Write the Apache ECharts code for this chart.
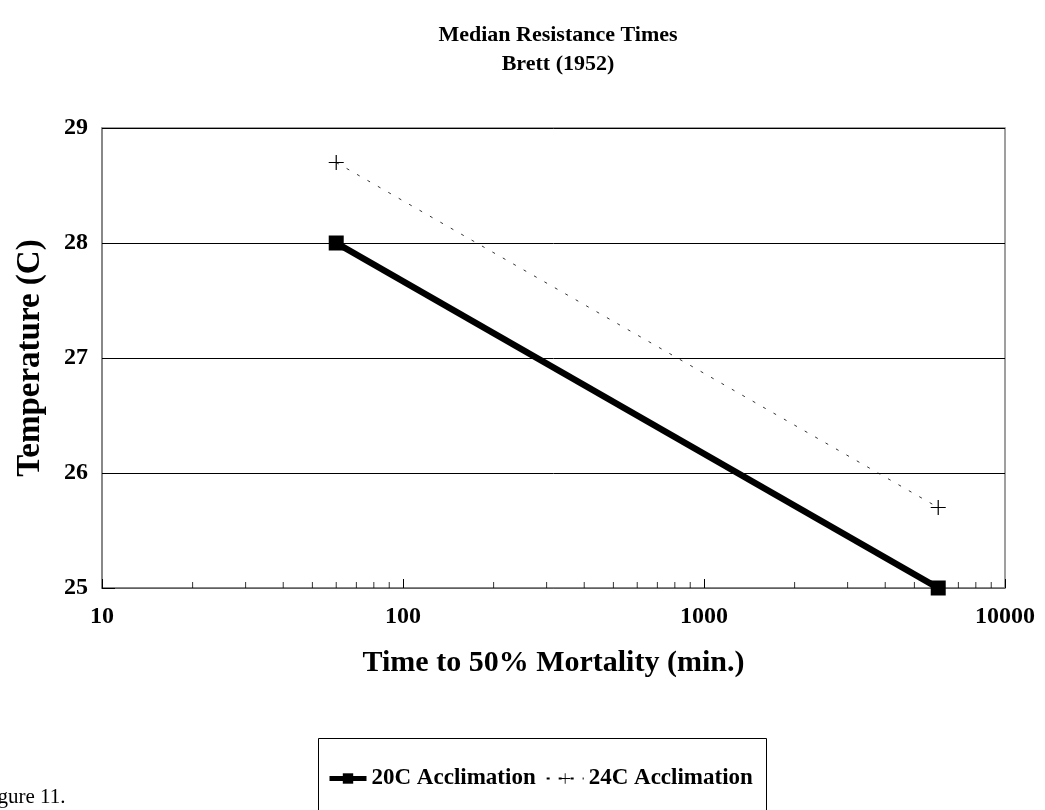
<!DOCTYPE html>
<html>
<head>
<meta charset="utf-8">
<script src="https://cdn.jsdelivr.net/npm/echarts@6/dist/echarts.min.js"></script>
<style>
  html, body { margin: 0; padding: 0; background: #fff; }
  #chart { width: 1045px; height: 810px; }
</style>
</head>
<body>
<div id="chart"></div>
<script>
  // data
  var times = [60, 6000]
  var temp20C = [28, 25]
  var temp24C = [28.7, 25.7]
  var minorTicks = [20, 30, 40, 50, 60, 70, 80, 90, 200, 300, 400, 500, 600, 700, 800, 900,
    2000, 3000, 4000, 5000, 6000, 7000, 8000, 9000]

  var serif = '"Liberation Serif", "Times New Roman", serif'
  var plusPath = 'path://M4.6,0h0.8v4.6h4.6v0.8h-4.6v4.6h-0.8v-4.6h-4.6v-0.8h4.6z'

  var dom = echarts.init(document.getElementById('chart'))
  var option = {
    backgroundColor: '#fff',
    animation: false,
    title: {
      text: 'Median Resistance Times\nBrett (1952)',
      left: 553,
      textAlign: 'center',
      top: 16,
      textStyle: { fontFamily: serif, fontWeight: 'bold', fontSize: 22, lineHeight: 29, color: '#000' }
    },
    grid: {
      left: 102, right: 40, top: 128, bottom: 222,
      show: true, borderColor: '#808080', borderWidth: 1.5
    },
    graphic: [
      { type: 'rect', shape: { x: 318.5, y: 738.5, width: 448, height: 90 },
        style: { fill: 'none', stroke: '#000', lineWidth: 1 } },
      { type: 'text', left: -20, top: 787,
        style: { text: 'Figure 11.', font: '21px ' + serif, fill: '#000' } }
    ],
    legend: {
      left: 322, top: 762,
      itemWidth: 37, itemHeight: 13, itemGap: 10,
      textStyle: { fontFamily: serif, fontWeight: 'bold', fontSize: 23, color: '#000' },
      data: [
        { name: '20C Acclimation', lineStyle: { width: 5 } },
        { name: '24C Acclimation' }
      ]
    },
    xAxis: {
      type: 'log', logBase: 10, min: 10, max: 10000,
      name: 'Time to 50% Mortality (min.)',
      nameLocation: 'middle', nameGap: 60,
      nameTextStyle: { fontFamily: serif, fontWeight: 'bold', fontSize: 30, color: '#000' },
      axisLine: { lineStyle: { color: '#808080', width: 1.5 } },
      axisTick: { inside: true, length: 9, lineStyle: { color: '#000' } },
      axisLabel: {
        margin: 17, fontFamily: serif, fontWeight: 'bold', fontSize: 24, color: '#000',
        formatter: function (v) { return String(v) }
      },
      splitLine: { show: false }
    },
    yAxis: {
      type: 'value', min: 25, max: 29, interval: 1,
      name: 'Temperature (C)',
      nameLocation: 'middle', nameGap: 55,
      nameTextStyle: { fontFamily: serif, fontWeight: 'bold', fontSize: 33, color: '#000' },
      axisLine: { show: true, lineStyle: { color: '#808080', width: 1.5 } },
      axisTick: { show: true, inside: true, length: 13, lineStyle: { color: '#000' } },
      axisLabel: { margin: 14, fontFamily: serif, fontWeight: 'bold', fontSize: 24, color: '#000' },
      splitLine: { show: true, lineStyle: { color: '#000', width: 1 } }
    },
    series: [
      {
        name: '20C Acclimation',
        type: 'line',
        data: times.map(function (t, i) { return [t, temp20C[i]] }),
        symbol: 'rect', symbolSize: 15,
        itemStyle: { color: '#000' },
        lineStyle: { color: '#000', width: 6.5 },
        z: 5
      },
      {
        name: '24C Acclimation',
        type: 'line',
        data: times.map(function (t, i) { return [t, temp24C[i]] }),
        symbol: plusPath, symbolSize: 15,
        itemStyle: { color: '#000' },
        lineStyle: { color: '#000', width: 0.8, type: [3, 9] },
        z: 4
      },
      {
        // minor ticks of the log axis
        name: 'minor',
        type: 'scatter',
        data: minorTicks.map(function (t) { return [t, 25] }),
        symbol: 'rect', symbolSize: [1, 6], symbolOffset: [0, -3],
        itemStyle: { color: '#000' },
        silent: true, z: 1
      }
    ]
  }
  dom.setOption(option)
</script>
</body>
</html>
